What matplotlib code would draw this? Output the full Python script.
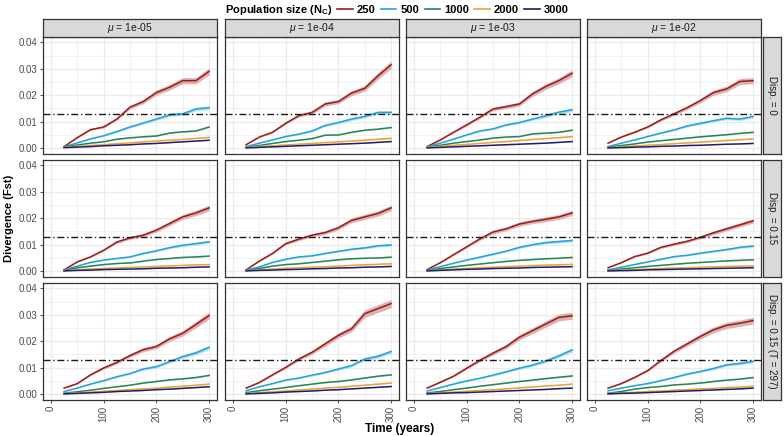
import matplotlib
matplotlib.use("Agg")
import matplotlib.pyplot as plt
from matplotlib.lines import Line2D
import numpy as np

plt.rcParams['font.family'] = ['Liberation Sans Narrow', 'Liberation Sans', 'DejaVu Sans']
plt.rcParams['mathtext.fontset'] = 'custom'
plt.rcParams['mathtext.rm'] = 'Liberation Sans'
plt.rcParams['mathtext.it'] = 'Liberation Sans:italic'

# ---------------- data ----------------
time = [25, 50, 75, 100, 125, 150, 175, 200, 225, 250, 275, 300]
pop_sizes = ["250", "500", "1000", "2000", "3000"]
mu_labels = ["1e-05", "1e-04", "1e-03", "1e-02"]
disp_labels = ["Disp. = 0", "Disp. = 0.15", "Disp. = 0.15 (T = 297)"]
threshold = 0.013

# each panel: series for Nc = 250, 500, 1000, 2000, 3000
d0_mu5 = [
    [0.0006, 0.0040, 0.0070, 0.0080, 0.0110, 0.0155, 0.0176, 0.0210, 0.0230, 0.0255, 0.0255, 0.0290],
    [0.0005, 0.0020, 0.0035, 0.0047, 0.0063, 0.0080, 0.0095, 0.0110, 0.0126, 0.0130, 0.0148, 0.0153],
    [0.0004, 0.0012, 0.0019, 0.0024, 0.0034, 0.0039, 0.0043, 0.0046, 0.0057, 0.0062, 0.0065, 0.0080],
    [0.0003, 0.0007, 0.0010, 0.0013, 0.0017, 0.0020, 0.0024, 0.0027, 0.0030, 0.0033, 0.0037, 0.0041],
    [0.0002, 0.0004, 0.0006, 0.0009, 0.0011, 0.0013, 0.0016, 0.0018, 0.0021, 0.0024, 0.0027, 0.0030],
]
d0_mu4 = [
    [0.0013, 0.0042, 0.0060, 0.0094, 0.0123, 0.0135, 0.0167, 0.0176, 0.0208, 0.0226, 0.0273, 0.0315],
    [0.0006, 0.0019, 0.0031, 0.0044, 0.0053, 0.0065, 0.0086, 0.0097, 0.0110, 0.0120, 0.0135, 0.0135],
    [0.0004, 0.0010, 0.0018, 0.0025, 0.0030, 0.0036, 0.0049, 0.0050, 0.0060, 0.0068, 0.0072, 0.0078],
    [0.0003, 0.0006, 0.0009, 0.0012, 0.0015, 0.0018, 0.0021, 0.0024, 0.0027, 0.0030, 0.0034, 0.0037],
    [0.0001, 0.0003, 0.0005, 0.0007, 0.0009, 0.0011, 0.0013, 0.0015, 0.0017, 0.0019, 0.0022, 0.0025],
]
d0_mu3 = [
    [0.0006, 0.0031, 0.0060, 0.0088, 0.0117, 0.0148, 0.0157, 0.0167, 0.0205, 0.0233, 0.0255, 0.0283],
    [0.0005, 0.0019, 0.0034, 0.0050, 0.0065, 0.0073, 0.0088, 0.0097, 0.0110, 0.0122, 0.0136, 0.0145],
    [0.0004, 0.0011, 0.0019, 0.0025, 0.0031, 0.0038, 0.0042, 0.0044, 0.0054, 0.0057, 0.0060, 0.0068],
    [0.0003, 0.0007, 0.0011, 0.0014, 0.0018, 0.0022, 0.0025, 0.0029, 0.0033, 0.0036, 0.0040, 0.0044],
    [0.0001, 0.0003, 0.0005, 0.0007, 0.0009, 0.0011, 0.0013, 0.0015, 0.0017, 0.0019, 0.0022, 0.0025],
]
d0_mu2 = [
    [0.0019, 0.0042, 0.0060, 0.0080, 0.0107, 0.0130, 0.0153, 0.0180, 0.0210, 0.0224, 0.0252, 0.0255],
    [0.0006, 0.0019, 0.0031, 0.0044, 0.0057, 0.0069, 0.0084, 0.0094, 0.0104, 0.0113, 0.0110, 0.0120],
    [0.0004, 0.0010, 0.0016, 0.0023, 0.0028, 0.0033, 0.0038, 0.0043, 0.0047, 0.0051, 0.0056, 0.0060],
    [0.0002, 0.0005, 0.0008, 0.0011, 0.0014, 0.0017, 0.0020, 0.0023, 0.0026, 0.0029, 0.0032, 0.0035],
    [0.0001, 0.0002, 0.0004, 0.0005, 0.0007, 0.0008, 0.0010, 0.0011, 0.0013, 0.0015, 0.0016, 0.0018],
]
d15_mu5 = [
    [0.0005, 0.0035, 0.0054, 0.0079, 0.0110, 0.0126, 0.0136, 0.0155, 0.0180, 0.0205, 0.0220, 0.0239],
    [0.0004, 0.0019, 0.0033, 0.0042, 0.0048, 0.0054, 0.0067, 0.0077, 0.0089, 0.0098, 0.0104, 0.0111],
    [0.0003, 0.0013, 0.0019, 0.0025, 0.0029, 0.0031, 0.0038, 0.0044, 0.0048, 0.0052, 0.0054, 0.0057],
    [0.0002, 0.0005, 0.0008, 0.0010, 0.0012, 0.0014, 0.0016, 0.0018, 0.0020, 0.0022, 0.0024, 0.0025],
    [0.0001, 0.0003, 0.0004, 0.0006, 0.0007, 0.0008, 0.0009, 0.0011, 0.0012, 0.0013, 0.0015, 0.0016],
]
d15_mu4 = [
    [0.0005, 0.0038, 0.0067, 0.0104, 0.0121, 0.0136, 0.0146, 0.0164, 0.0192, 0.0205, 0.0218, 0.0239],
    [0.0004, 0.0016, 0.0033, 0.0045, 0.0054, 0.0058, 0.0067, 0.0075, 0.0083, 0.0088, 0.0096, 0.0099],
    [0.0003, 0.0010, 0.0019, 0.0025, 0.0028, 0.0033, 0.0038, 0.0043, 0.0047, 0.0049, 0.0050, 0.0053],
    [0.0002, 0.0005, 0.0008, 0.0011, 0.0013, 0.0015, 0.0017, 0.0019, 0.0022, 0.0024, 0.0026, 0.0028],
    [0.0001, 0.0003, 0.0004, 0.0006, 0.0007, 0.0009, 0.0010, 0.0012, 0.0013, 0.0015, 0.0016, 0.0018],
]
d15_mu3 = [
    [0.0006, 0.0032, 0.0062, 0.0092, 0.0122, 0.0148, 0.0160, 0.0178, 0.0188, 0.0196, 0.0205, 0.0220],
    [0.0005, 0.0017, 0.0030, 0.0042, 0.0053, 0.0064, 0.0076, 0.0090, 0.0100, 0.0108, 0.0112, 0.0116],
    [0.0003, 0.0010, 0.0016, 0.0022, 0.0027, 0.0032, 0.0037, 0.0041, 0.0044, 0.0047, 0.0049, 0.0052],
    [0.0002, 0.0005, 0.0008, 0.0010, 0.0013, 0.0015, 0.0017, 0.0019, 0.0021, 0.0023, 0.0024, 0.0026],
    [0.0001, 0.0003, 0.0005, 0.0007, 0.0008, 0.0010, 0.0011, 0.0012, 0.0014, 0.0015, 0.0016, 0.0017],
]
d15_mu2 = [
    [0.0013, 0.0032, 0.0055, 0.0068, 0.0090, 0.0102, 0.0113, 0.0128, 0.0145, 0.0160, 0.0175, 0.0190],
    [0.0005, 0.0015, 0.0025, 0.0035, 0.0045, 0.0055, 0.0060, 0.0068, 0.0075, 0.0082, 0.0090, 0.0095],
    [0.0003, 0.0008, 0.0013, 0.0018, 0.0022, 0.0026, 0.0030, 0.0033, 0.0036, 0.0039, 0.0041, 0.0043],
    [0.0002, 0.0004, 0.0006, 0.0008, 0.0010, 0.0012, 0.0013, 0.0015, 0.0016, 0.0018, 0.0019, 0.0020],
    [0.0001, 0.0002, 0.0003, 0.0005, 0.0006, 0.0007, 0.0008, 0.0009, 0.0010, 0.0011, 0.0012, 0.0013],
]
d15T_mu5 = [
    [0.0023, 0.0040, 0.0073, 0.0099, 0.0120, 0.0146, 0.0168, 0.0180, 0.0209, 0.0230, 0.0263, 0.0297],
    [0.0010, 0.0023, 0.0038, 0.0051, 0.0066, 0.0078, 0.0095, 0.0104, 0.0123, 0.0142, 0.0156, 0.0177],
    [0.0004, 0.0009, 0.0015, 0.0022, 0.0028, 0.0034, 0.0042, 0.0048, 0.0054, 0.0058, 0.0063, 0.0071],
    [0.0002, 0.0005, 0.0008, 0.0011, 0.0014, 0.0017, 0.0020, 0.0023, 0.0027, 0.0030, 0.0034, 0.0038],
    [0.0001, 0.0003, 0.0005, 0.0007, 0.0010, 0.0012, 0.0014, 0.0017, 0.0019, 0.0022, 0.0025, 0.0028],
]
d15T_mu4 = [
    [0.0023, 0.0044, 0.0073, 0.0101, 0.0133, 0.0158, 0.0190, 0.0222, 0.0247, 0.0304, 0.0323, 0.0342],
    [0.0013, 0.0028, 0.0040, 0.0053, 0.0061, 0.0072, 0.0082, 0.0095, 0.0108, 0.0133, 0.0143, 0.0161],
    [0.0006, 0.0013, 0.0019, 0.0025, 0.0032, 0.0038, 0.0044, 0.0048, 0.0054, 0.0061, 0.0068, 0.0073],
    [0.0002, 0.0006, 0.0009, 0.0012, 0.0016, 0.0019, 0.0023, 0.0026, 0.0030, 0.0034, 0.0038, 0.0042],
    [0.0001, 0.0003, 0.0005, 0.0008, 0.0010, 0.0012, 0.0015, 0.0017, 0.0020, 0.0023, 0.0026, 0.0029],
]
d15T_mu3 = [
    [0.0023, 0.0045, 0.0068, 0.0098, 0.0128, 0.0155, 0.0180, 0.0215, 0.0240, 0.0265, 0.0290, 0.0296],
    [0.0012, 0.0025, 0.0038, 0.0050, 0.0060, 0.0072, 0.0085, 0.0098, 0.0110, 0.0125, 0.0145, 0.0167],
    [0.0005, 0.0010, 0.0017, 0.0023, 0.0030, 0.0036, 0.0042, 0.0048, 0.0053, 0.0059, 0.0064, 0.0069],
    [0.0002, 0.0005, 0.0008, 0.0011, 0.0014, 0.0017, 0.0020, 0.0024, 0.0027, 0.0031, 0.0034, 0.0038],
    [0.0001, 0.0003, 0.0005, 0.0006, 0.0008, 0.0010, 0.0012, 0.0014, 0.0016, 0.0018, 0.0021, 0.0023],
]
d15T_mu2 = [
    [0.0023, 0.0040, 0.0063, 0.0089, 0.0127, 0.0162, 0.0190, 0.0218, 0.0243, 0.0260, 0.0268, 0.0278],
    [0.0013, 0.0023, 0.0032, 0.0040, 0.0051, 0.0063, 0.0076, 0.0086, 0.0097, 0.0111, 0.0116, 0.0124],
    [0.0004, 0.0010, 0.0019, 0.0025, 0.0029, 0.0035, 0.0038, 0.0042, 0.0048, 0.0053, 0.0057, 0.0063],
    [0.0002, 0.0005, 0.0007, 0.0010, 0.0012, 0.0015, 0.0017, 0.0020, 0.0022, 0.0025, 0.0027, 0.0030],
    [0.0001, 0.0003, 0.0004, 0.0006, 0.0008, 0.0010, 0.0012, 0.0014, 0.0016, 0.0018, 0.0020, 0.0023],
]

panels = [
    [d0_mu5, d0_mu4, d0_mu3, d0_mu2],
    [d15_mu5, d15_mu4, d15_mu3, d15_mu2],
    [d15T_mu5, d15T_mu4, d15T_mu3, d15T_mu2],
]

# relative half-width of the confidence ribbon per population size
ribbon_rel = [0.045, 0.045, 0.03, 0.03, 0.03]

# ---------------- style ----------------
colors = ["#9B1C1C", "#22A3DC", "#23865A", "#E8A33A", "#1E1E6A"]
ribbon_colors = ["#D9A3A3", "#9FD8F2", "#A5D3BD", "#F3D6A6", "#A6A6C8"]
grid_col = "#EBEBEB"
border_col = "#333333"
strip_fill = "#D9D9D9"
tick_col = "#4D4D4D"

W, H = 784, 436
fig = plt.figure(figsize=(W / 100, H / 100), dpi=100)


def fx(px):
    return px / W


def fy(py):
    return 1 - py / H


col_left = [43, 225, 406, 587]
panel_w = 174
row_top = [37, 160, 283]
panel_h = 117
strip_h = 18
rstrip_x0, rstrip_w = 763, 18

for r in range(3):
    for c in range(4):
        ax = fig.add_axes([fx(col_left[c]), fy(row_top[r] + panel_h), panel_w / W, panel_h / H])
        ax.set_xlim(-15, 315)
        ax.set_ylim(-0.0022, 0.042)
        ax.set_xticks([0, 100, 200, 300])
        ax.set_xticks([50, 150, 250], minor=True)
        ax.set_yticks([0, 0.01, 0.02, 0.03, 0.04])
        ax.set_yticks([0.005, 0.015, 0.025, 0.035], minor=True)
        ax.grid(which='major', color=grid_col, lw=0.9)
        ax.grid(which='minor', color=grid_col, lw=0.5)
        ax.set_axisbelow(True)
        for s in ax.spines.values():
            s.set_color(border_col)
            s.set_linewidth(0.9)
        ax.tick_params(which='minor', length=0)
        ax.tick_params(which='major', length=2.5, width=0.6, color=border_col,
                       labelcolor=tick_col, labelsize=7, pad=1.5)
        if c == 0:
            ax.set_yticklabels(["0.00", "0.01", "0.02", "0.03", "0.04"])
        else:
            ax.set_yticklabels([])
            ax.tick_params(axis='y', length=0)
        if r == 2:
            ax.set_xticklabels(["0", "100", "200", "300"], rotation=90)
        else:
            ax.set_xticklabels([])
            ax.tick_params(axis='x', length=0)

        data = panels[r][c]
        for k in range(5):
            y = np.array(data[k])
            hw = y * ribbon_rel[k]
            ax.fill_between(time, y - hw, y + hw, color=ribbon_colors[k], lw=0, alpha=0.85, zorder=2)
        for k in range(5):
            ax.plot(time, data[k], color=colors[k], lw=1.1, zorder=3)
        ax.axhline(threshold, color="#1A1A1A", lw=1.0, dashes=(5, 2, 1, 2), zorder=4)

        # top strip
        if r == 0:
            sax = fig.add_axes([fx(col_left[c]), fy(row_top[0]), panel_w / W, strip_h / H])
            sax.set_facecolor(strip_fill)
            sax.set_xticks([]); sax.set_yticks([])
            for s in sax.spines.values():
                s.set_color(border_col); s.set_linewidth(0.9)
            sax.text(0.5, 0.5, r"$\mu$ = " + mu_labels[c], ha='center', va='center',
                     fontsize=7.5, color="#1A1A1A", transform=sax.transAxes)
        # right strip
        if c == 3:
            rax = fig.add_axes([fx(rstrip_x0), fy(row_top[r] + panel_h), rstrip_w / W, panel_h / H])
            rax.set_facecolor(strip_fill)
            rax.set_xticks([]); rax.set_yticks([])
            for s in rax.spines.values():
                s.set_color(border_col); s.set_linewidth(0.9)
            rax.text(0.5, 0.5, disp_labels[r], ha='center', va='center', rotation=-90,
                     fontsize=7, color="#1A1A1A", transform=rax.transAxes)

# axis titles
fig.text(fx(400), fy(429), "Time (years)", ha='center', va='center', fontsize=8.5, fontweight='bold')
fig.text(fx(9), fy(218), "Divergence (Fst)", ha='center', va='center', rotation=90,
         fontsize=8, fontweight='bold')

# legend
fig.text(fx(333), fy(10), r"Population size (N$_\mathregular{C}$)", ha='right', va='center',
         fontsize=8, fontweight='bold')
handles = [Line2D([0], [0], color=colors[k], lw=1.2) for k in range(5)]
leg = fig.legend(handles, pop_sizes, loc='center left', bbox_to_anchor=(fx(337), fy(10)),
                 ncol=5, frameon=False, handlelength=1.4, handletextpad=0.35,
                 columnspacing=0.5, borderaxespad=0, borderpad=0,
                 prop={'size': 8, 'weight': 'bold'})

fig.savefig("out.png", dpi=100)
